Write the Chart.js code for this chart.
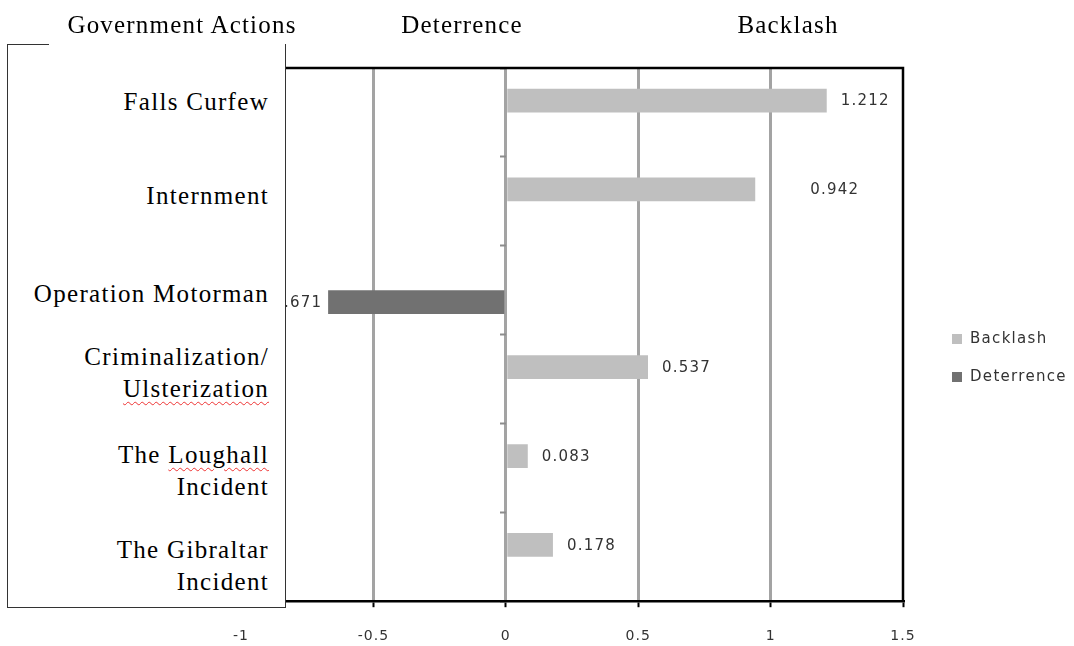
<!DOCTYPE html>
<html lang="en">
<head>
    <meta charset="UTF-8">
    <title>Government Actions</title>
    <script src="https://cdn.jsdelivr.net/npm/chart.js"></script>
    <style>
        body { margin: 0; background: #fff; }
        .pagina { position: relative; width: 1074px; height: 646px; overflow: hidden; }
        #grafico-wrap { position: absolute; left: 0; top: 0; width: 1074px; height: 666px; }
        .titulo {
            position: absolute; top: 11px; line-height: 28px;
            font-family: 'Liberation Serif', 'Times New Roman', serif; font-size: 25px;
            letter-spacing: 1.2px; color: #000; white-space: nowrap; transform: translateX(-50%);
        }
        .caixa {
            position: absolute; left: 7px; top: 44px; width: 277px; height: 563px;
            border: 1px solid #333; border-top: none; background: #fff;
        }
        .caixa-topo { position: absolute; left: 7px; top: 44px; width: 42px; border-top: 1px solid #333; }
        .rotulo {
            position: absolute; right: 16px; text-align: right;
            font-family: 'Liberation Serif', 'Times New Roman', serif; font-size: 25px;
            line-height: 32px; letter-spacing: 1.3px; color: #000; white-space: nowrap;
        }
        .erro { text-decoration: underline wavy #e33; text-decoration-thickness: 1px; text-underline-offset: 4px; }
    </style>
</head>
<body>
    <div class="pagina">
        <div id="grafico-wrap"><canvas id="grafico"></canvas></div>
        <div class="caixa" id="caixa"></div>
        <div class="caixa-topo"></div>
        <div class="titulo" id="tituloAcoes" style="left: 182px;"></div>
        <div class="titulo" id="tituloDet" style="left: 462px;"></div>
        <div class="titulo" id="tituloBack" style="left: 788px;"></div>
    </div>

<script>
    // dados
    const acoes = [
        'Falls Curfew',
        'Internment',
        'Operation Motorman',
        ['Criminalization/', 'Ulsterization'],
        ['The Loughall', 'Incident'],
        ['The Gibraltar', 'Incident']
    ];
    const backlash = [1.212, 0.942, null, 0.537, 0.083, 0.178];
    const deterrence = [null, null, -0.671, null, null, null];
    const series = ['Backlash', 'Deterrence'];
    const tituloColuna = 'Government Actions';
    const ticksX = [-1, -0.5, 0, 0.5, 1, 1.5];
    const palavrasErradas = ['Ulsterization', 'Loughall'];

    // posição vertical de cada rótulo dentro da caixa
    const topoRotulos = [42, 136, 234, 297, 395, 490];

    document.getElementById('tituloAcoes').textContent = tituloColuna;
    document.getElementById('tituloBack').textContent = series[0];
    document.getElementById('tituloDet').textContent = series[1];

    const caixa = document.getElementById('caixa');
    acoes.forEach((acao, i) => {
        const linhas = Array.isArray(acao) ? acao : [acao];
        const div = document.createElement('div');
        div.className = 'rotulo';
        div.style.top = topoRotulos[i] + 'px';
        div.innerHTML = linhas.map(l => {
            let t = l;
            palavrasErradas.forEach(p => { t = t.replace(p, `<span class="erro">${p}</span>`); });
            return t;
        }).join('<br>');
        caixa.appendChild(div);
    });

    // rótulos de valor ao lado das barras
    const rotulosValores = {
        id: 'rotulosValores',
        afterDatasetsDraw(chart, args, opts) {
            const ctx = chart.ctx;
            ctx.save();
            ctx.font = '15px "DejaVu Sans"';
            ctx.letterSpacing = '1.2px';
            ctx.fillStyle = '#333';
            ctx.textBaseline = 'middle';
            chart.data.datasets.forEach((ds, i) => {
                const meta = chart.getDatasetMeta(i);
                meta.data.forEach((barra, j) => {
                    const v = ds.data[j];
                    if (v == null) return;
                    const extra = opts.deslocamento[j] || 0;
                    if (v >= 0) {
                        ctx.textAlign = 'left';
                        ctx.fillText(v.toFixed(3), barra.x + 14 + extra, barra.y + 1);
                    } else {
                        ctx.textAlign = 'right';
                        ctx.fillText(v.toFixed(3), barra.x - 6, barra.y + 1);
                    }
                });
            });
            ctx.restore();
        }
    };

    // moldura de cima / direita e legenda
    const moldura = {
        id: 'moldura',
        beforeDraw(chart) {
            chart.ctx.letterSpacing = '1px';
        },
        afterDraw(chart) {
            const ctx = chart.ctx;
            const a = chart.chartArea;
            ctx.save();
            ctx.strokeStyle = '#000';
            ctx.lineWidth = 2.5;
            ctx.beginPath();
            ctx.moveTo(a.left, a.top);
            ctx.lineTo(a.right, a.top);
            ctx.lineTo(a.right, a.bottom);
            ctx.stroke();

            ctx.font = '15px "DejaVu Sans"';
            ctx.letterSpacing = '1.3px';
            ctx.textBaseline = 'middle';
            ctx.textAlign = 'left';
            const linhasY = [339, 377];
            chart.data.datasets.forEach((ds, i) => {
                ctx.fillStyle = ds.backgroundColor;
                ctx.fillRect(952, linhasY[i] - 5, 10, 10);
                ctx.fillStyle = '#333';
                ctx.fillText(ds.label, 970, linhasY[i]);
            });
            ctx.restore();
            ctx.letterSpacing = '0px';
        }
    };

    const grafico = new Chart(document.getElementById('grafico'), {
        type: 'bar',
        data: {
            labels: acoes,
            datasets: [{
                label: series[0],
                data: backlash,
                backgroundColor: '#bfbfbf',
                barPercentage: 1,
                categoryPercentage: 0.535
            },
            {
                label: series[1],
                data: deterrence,
                backgroundColor: '#717171',
                barPercentage: 1,
                categoryPercentage: 0.535
            }]
        },
        options: {
            indexAxis: 'y',
            responsive: true,
            maintainAspectRatio: false,
            animation: false,
            layout: { padding: { left: 241, top: 68, right: 171, bottom: 0 } },
            plugins: {
                legend: { display: false },
                tooltip: { enabled: false },
                rotulosValores: { deslocamento: [0, 41, 0, 0, 0, 0] }
            },
            scales: {
                x: {
                    type: 'linear',
                    min: ticksX[0],
                    max: ticksX[ticksX.length - 1],
                    afterBuildTicks: (scale) => { scale.ticks = ticksX.map(v => ({ value: v })); },
                    ticks: {
                        color: '#333',
                        padding: 21,
                        font: { family: 'DejaVu Sans', size: 14 },
                        callback: (v) => String(v)
                    },
                    grid: {
                        color: (c) => (c.tick && (c.tick.value === -1 || c.tick.value === 1.5)) ? 'rgba(0,0,0,0)' : '#a3a3a3',
                        lineWidth: 3,
                        tickColor: '#000',
                        tickWidth: 2,
                        tickLength: 6
                    },
                    border: { color: '#000', width: 2.5 }
                },
                y: {
                    position: { x: 0 },
                    offset: true,
                    ticks: { display: false },
                    grid: {
                        offset: true,
                        drawOnChartArea: false,
                        tickLength: 6,
                        tickColor: '#8c8c8c',
                        tickWidth: 2
                    },
                    border: { display: false }
                }
            }
        },
        plugins: [rotulosValores, moldura]
    });
</script>
</body>
</html>
